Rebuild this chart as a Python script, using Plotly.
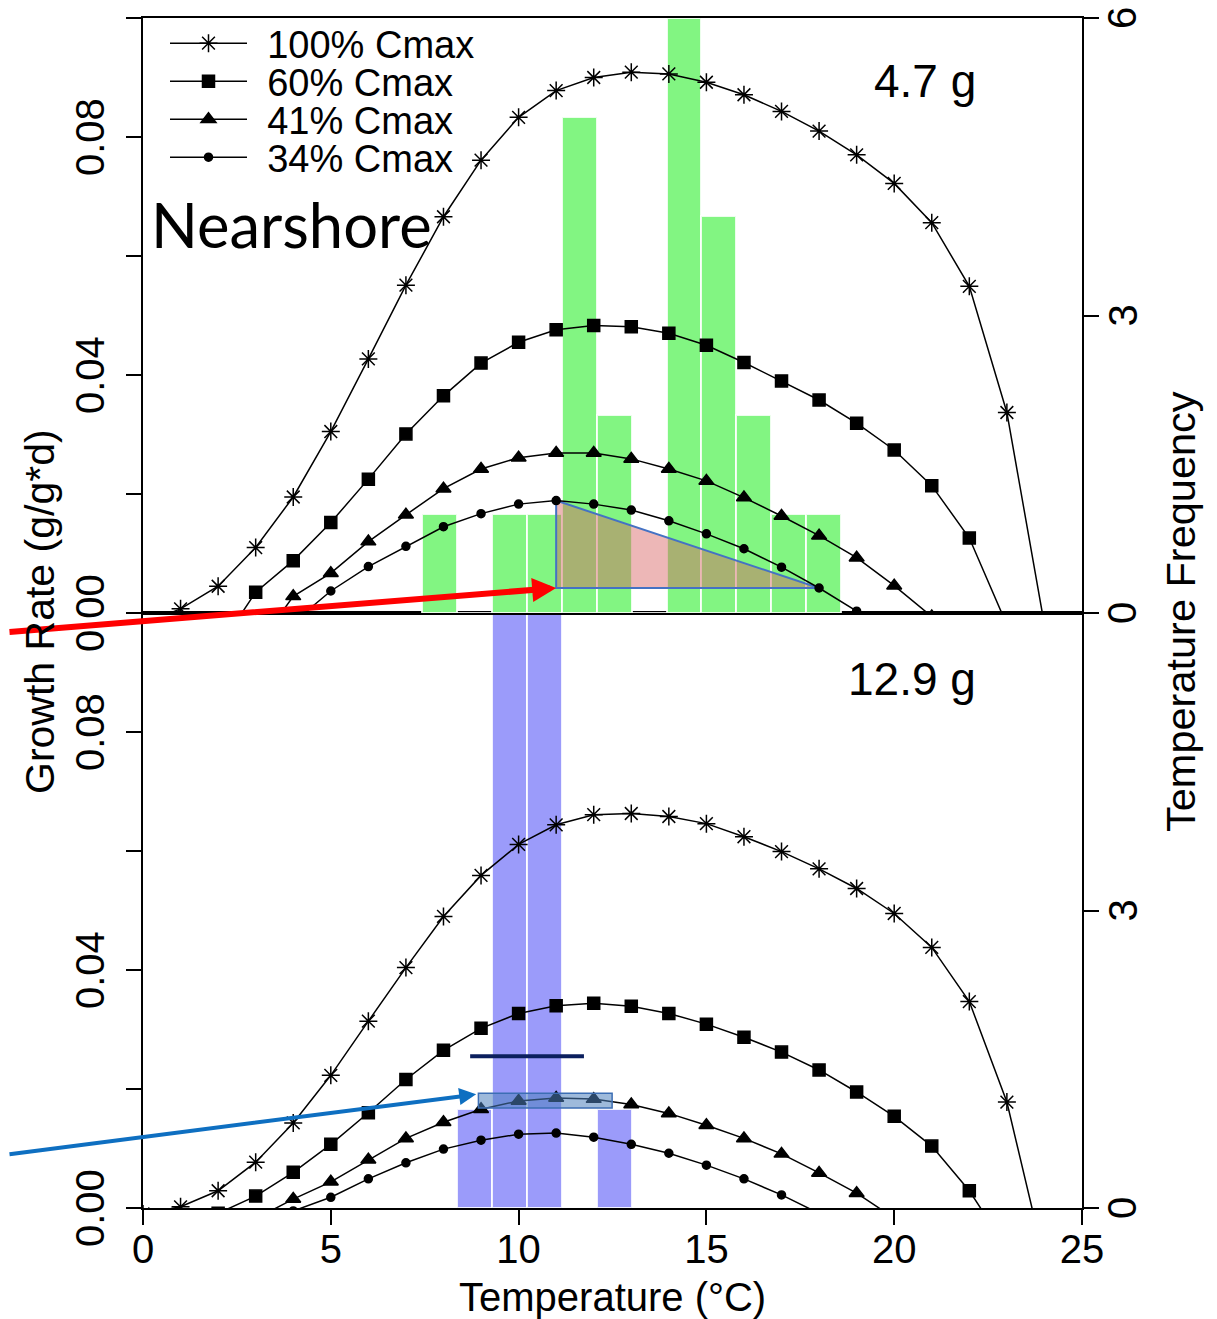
import plotly.graph_objects as go

# ---------------- data ----------------
temps = list(range(0, 25))
N = None

# Upper panel (4.7 g) growth rates by temperature
top_c100 = [-0.0018, 0.0007, 0.0045, 0.0110, 0.0195, 0.0305, 0.0427, 0.0551, 0.0666, 0.0761, 0.0833, 0.0878,
            0.0900, 0.0909, 0.0906, 0.0892, 0.0871, 0.0843, 0.0810, 0.0770, 0.0722, 0.0656, 0.0549, 0.0337, -0.0020]
top_c60 = [N, N, -0.0060, 0.0035, 0.0088, 0.0152, 0.0225, 0.0301, 0.0365, 0.0420, 0.0455, 0.0476,
           0.0483, 0.0481, 0.0470, 0.0450, 0.0421, 0.0390, 0.0358, 0.0319, 0.0274, 0.0214, 0.0126, -0.0020, N]
top_c41 = [N, N, N, -0.0060, 0.0028, 0.0067, 0.0120, 0.0165, 0.0209, 0.0242, 0.0261, 0.0269,
           0.0269, 0.0259, 0.0242, 0.0222, 0.0194, 0.0163, 0.0130, 0.0093, 0.0046, -0.0006, N, N, N]
top_c34 = [N, N, N, N, -0.0016, 0.0037, 0.0078, 0.0112, 0.0145, 0.0167, 0.0183, 0.0189,
           0.0183, 0.0173, 0.0155, 0.0133, 0.0108, 0.0077, 0.0042, 0.0003, -0.0050, N, N, N, N]

# Lower panel (12.9 g)
bot_c100 = [-0.0010, 0.0002, 0.0029, 0.0077, 0.0143, 0.0223, 0.0314, 0.0404, 0.0490, 0.0559, 0.0611, 0.0644,
            0.0661, 0.0663, 0.0658, 0.0646, 0.0624, 0.0599, 0.0570, 0.0537, 0.0495, 0.0438, 0.0347, 0.0178, -0.0088]
bot_c60 = [N, N, -0.0009, 0.0020, 0.0060, 0.0107, 0.0160, 0.0216, 0.0265, 0.0302, 0.0327, 0.0340,
           0.0344, 0.0339, 0.0327, 0.0309, 0.0287, 0.0262, 0.0232, 0.0195, 0.0154, 0.0104, 0.0029, -0.0068, N]
bot_c41 = [N, N, N, -0.0018, 0.0015, 0.0044, 0.0081, 0.0117, 0.0144, 0.0166, 0.0180, 0.0185,
           0.0183, 0.0174, 0.0159, 0.0139, 0.0117, 0.0091, 0.0059, 0.0025, -0.0017, N, N, N, N]
bot_c34 = [N, N, N, N, -0.0005, 0.0018, 0.0049, 0.0076, 0.0099, 0.0114, 0.0124, 0.0126,
           0.0119, 0.0107, 0.0092, 0.0072, 0.0049, 0.0022, -0.0009, N, N, N, N, N, N]

# Temperature histograms (bin edges and counts)
bin_edges = [7.43, 8.36, 9.29, 10.22, 11.15, 12.08, 13.01, 13.94, 14.86, 15.79, 16.72, 17.65, 18.58]
top_counts = [1, 0, 1, 1, 5, 2, 0, 6, 4, 2, 1, 1]
bot_counts = [0, 1, 6, 6, 0, 1, 0, 0, 0, 0, 0, 0]

series_names = ["100% Cmax", "60% Cmax", "41% Cmax", "34% Cmax"]
x_ticks = [0, 5, 10, 15, 20, 25]
gr_ticks = [0.0, 0.02, 0.04, 0.06, 0.08, 0.10]
gr_ticklabels = ["0.00", "", "0.04", "", "0.08", ""]
freq_ticks = [0, 3, 6]
freq_labels_top = ["0", "3", "6"]
freq_labels_bot = ["0", "3", ""]

# ---------------- styling ----------------
FONT = "Liberation Sans, Arial, sans-serif"
symbols = ["asterisk-open", "square", "triangle-up", "circle"]
msizes = [15, 12, 13, 8]
legend_ids = ["legend", "legend2", "legend3", "legend4"]
legend_rows_px = [43.5, 81.5, 119.5, 157.5]

# page offset of the figure (body margin) and plot area in page pixels
OFF = 8
PL, PR, PT, PB = 143, 1082, 18, 1208
PW, PH = PR - PL, PB - PT
LEFT_LABEL_X, RIGHT_LABEL_X = 90, 1122


def py(ypx):
    return 1 - (ypx - PT) / PH


def px(xpx):
    return (xpx - PL) / PW


centers = [(bin_edges[i] + bin_edges[i + 1]) / 2 for i in range(len(bin_edges) - 1)]
widths = [bin_edges[i + 1] - bin_edges[i] for i in range(len(bin_edges) - 1)]

fig = go.Figure()

# histograms (drawn first, on the base right-hand axes)
fig.add_trace(go.Bar(x=centers, y=top_counts, width=widths, xaxis="x2", yaxis="y3",
                     marker=dict(color="#82F582", line=dict(color="rgba(255,255,255,0.85)", width=2)),
                     showlegend=False, hoverinfo="skip"))
fig.add_trace(go.Bar(x=centers, y=bot_counts, width=widths, xaxis="x", yaxis="y",
                     marker=dict(color="#9B9BFA", line=dict(color="rgba(255,255,255,0.85)", width=2)),
                     showlegend=False, hoverinfo="skip"))

# shaded triangle under the 34% curve (upper panel), tied to the curve values
ia, ib = 11, 18
fig.add_trace(go.Scatter(x=[temps[ia], temps[ia], temps[ib], temps[ia]],
                         y=[top_c34[ia], top_c34[ib], top_c34[ib], top_c34[ia]],
                         xaxis="x2", yaxis="y4", mode="lines", fill="toself",
                         fillcolor="rgba(215,95,95,0.45)", line=dict(color="#4472C4", width=2),
                         showlegend=False, hoverinfo="skip"))

top_series = [top_c100, top_c60, top_c41, top_c34]
bot_series = [bot_c100, bot_c60, bot_c41, bot_c34]
for name, ys, sym, ms, lid in zip(series_names, top_series, symbols, msizes, legend_ids):
    fig.add_trace(go.Scatter(x=temps, y=ys, name="\u2009\u2009" + name, xaxis="x2", yaxis="y4",
                             mode="lines+markers", line=dict(color="black", width=1.5),
                             marker=dict(symbol=sym, size=ms, color="black", line=dict(color="black", width=1.5)),
                             showlegend=True, legend=lid))
for name, ys, sym, ms in zip(series_names, bot_series, symbols, msizes):
    fig.add_trace(go.Scatter(x=temps, y=ys, name=name, xaxis="x", yaxis="y2", mode="lines+markers",
                             line=dict(color="black", width=1.5),
                             marker=dict(symbol=sym, size=ms, color="black", line=dict(color="black", width=1.5)),
                             showlegend=False))

tickfont = dict(family=FONT, size=40, color="black")
tick_axis = dict(showgrid=False, zeroline=False, showline=True, linecolor="black", linewidth=1.5,
                 ticks="outside", ticklen=15, tickwidth=1.5, tickcolor="black", automargin=False,
                 showticklabels=False)

layout_legends = {}
for lid, row in zip(legend_ids, legend_rows_px):
    layout_legends[lid] = dict(x=px(165), y=py(row), xanchor="left", yanchor="middle",
                               bgcolor="rgba(0,0,0,0)", borderwidth=0,
                               font=dict(family=FONT, size=38, color="black"), itemwidth=77)

fig.update_layout(
    width=1217 - OFF, height=1319 - OFF,
    margin=dict(l=PL - OFF, r=1217 - PR, t=PT - OFF, b=1319 - PB, autoexpand=False),
    plot_bgcolor="white", paper_bgcolor="white",
    font=dict(family=FONT, color="black"),
    bargap=0,
    xaxis=dict(domain=[0, 1], anchor="y", range=[0, 25], tickvals=x_ticks, mirror=True,
               showgrid=False, zeroline=False, showline=True, linecolor="black", linewidth=1.5,
               ticks="outside", ticklen=15, tickwidth=1.5, tickcolor="black", automargin=False,
               tickfont=tickfont, ticklabelstandoff=-10),
    xaxis2=dict(domain=[0, 1], anchor="y3", range=[0, 25], matches="x", showticklabels=False,
                showgrid=False, zeroline=False, showline=True, linecolor="black", linewidth=1.5,
                mirror=True, ticks="", automargin=False),
    yaxis=dict(domain=[0, 0.5], anchor="x", side="right", range=[0, 6], tickvals=freq_ticks, **tick_axis),
    yaxis2=dict(overlaying="y", anchor="x", side="left", range=[0, 0.1], tickvals=gr_ticks, **tick_axis),
    yaxis3=dict(domain=[0.5, 1], anchor="x2", side="right", range=[0, 6], tickvals=freq_ticks, **tick_axis),
    yaxis4=dict(overlaying="y3", anchor="x2", side="left", range=[0, 0.1], tickvals=gr_ticks, **tick_axis),
    **layout_legends,
)

# rotated y tick labels, placed on their axes' values
for yref in ["y2", "y4"]:
    for v, lab in zip(gr_ticks, gr_ticklabels):
        if lab:
            fig.add_annotation(x=px(LEFT_LABEL_X), y=v, xref="paper", yref=yref, text=lab, showarrow=False,
                               textangle=-90, font=tickfont, xanchor="center", yanchor="middle")
for yref, labels in [("y", freq_labels_bot), ("y3", freq_labels_top)]:
    for v, lab in zip(freq_ticks, labels):
        if lab:
            fig.add_annotation(x=px(RIGHT_LABEL_X), y=v, xref="paper", yref=yref, text=lab, showarrow=False,
                               textangle=-90, font=tickfont, xanchor="center", yanchor="middle")

# overlay shapes (lower panel)
fig.add_shape(type="rect", xref="x", yref="y2", x0=8.93, x1=12.49, y0=0.0168, y1=0.0193,
              fillcolor="rgba(79,129,189,0.55)", line=dict(color="#3C6EB4", width=1.5), layer="above")
fig.add_shape(type="line", xref="x", yref="y2", x0=8.71, x1=11.74, y0=0.0255, y1=0.0255,
              line=dict(color="#0B1F5E", width=4), layer="above")

# arrows
fig.add_annotation(x=temps[ia], y=top_c34[ib], xref="x2", yref="y4", ax=-565, ay=44,
                   axref="pixel", ayref="pixel", showarrow=True, arrowhead=2, arrowsize=0.8,
                   arrowwidth=6, arrowcolor="#FF0000", text="")
fig.add_annotation(x=8.87, y=0.0191, xref="x", yref="y2", ax=-484, ay=60,
                   axref="pixel", ayref="pixel", showarrow=True, arrowhead=2, arrowsize=0.85,
                   arrowwidth=4, arrowcolor="#0E6FC1", text="")

# texts
fig.add_annotation(x=px(925), y=py(81), xref="paper", yref="paper", text="4.7 g", showarrow=False,
                   font=dict(family=FONT, size=46, color="black"), xanchor="center", yanchor="middle")
fig.add_annotation(x=px(912), y=py(679), xref="paper", yref="paper", text="12.9 g", showarrow=False,
                   font=dict(family=FONT, size=46, color="black"), xanchor="center", yanchor="middle")
fig.add_annotation(x=px(149), y=py(224), xref="paper", yref="paper", text="Nearshore",
                   showarrow=False, font=dict(family="Lato, sans-serif", size=61.5, color="black"),
                   xanchor="left", yanchor="middle")
fig.add_annotation(x=px(40), y=py(612), xref="paper", yref="paper", text="Growth Rate (g/g*d)",
                   showarrow=False, textangle=-90, font=dict(family=FONT, size=41, color="black"),
                   xanchor="center", yanchor="middle")
fig.add_annotation(x=px(1180), y=py(612), xref="paper", yref="paper", text="Temperature Frequency",
                   showarrow=False, textangle=-90, font=dict(family=FONT, size=41.5, color="black"),
                   xanchor="center", yanchor="middle")
fig.add_annotation(x=px(612), y=py(1297), xref="paper", yref="paper", text="Temperature (°C)",
                   showarrow=False, font=dict(family=FONT, size=40, color="black"),
                   xanchor="center", yanchor="middle")

fig.write_html("out.html")
